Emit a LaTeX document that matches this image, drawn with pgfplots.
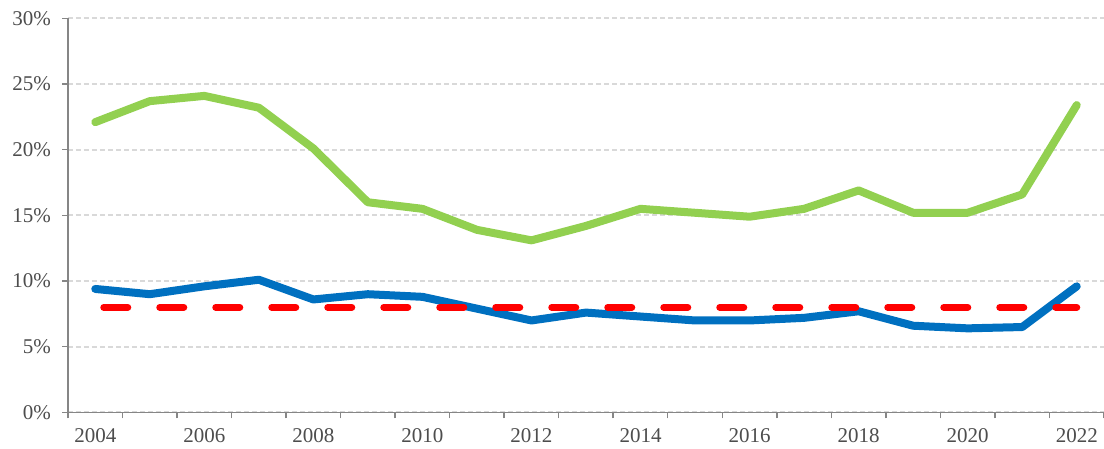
\documentclass[border=0pt]{standalone}
\usepackage{fontspec}
\setmainfont{Liberation Serif}
\usepackage{pgfplots}
\pgfplotsset{compat=1.18}
\definecolor{cgreen}{HTML}{92D050}
\definecolor{cblue}{HTML}{0070C0}
\definecolor{cred}{HTML}{FF0000}
\definecolor{cgrid}{HTML}{D9D9D9}
\definecolor{caxis}{HTML}{868686}
\definecolor{ctext}{HTML}{4D4D4D}
\begin{document}
\begin{tikzpicture}
\begin{axis}[
 scale only axis, width=518pt, height=197pt,
 xmin=2003.5, xmax=2022.5, ymin=0, ymax=30,
 axis x line*=bottom, axis y line*=left,
 axis line style={-, draw=caxis, line width=0.75pt},
 tick align=outside, major tick length=3pt,
 tick style={draw=caxis, line width=0.75pt},
 xtick={2003.5,2004.5,...,2022.5}, xticklabels={},
 extra x ticks={2004,2006,...,2022},
 extra x tick labels={2004,2006,2008,2010,2012,2014,2016,2018,2020,2022},
 extra x tick style={major tick length=0pt, grid=none},
 ytick={0,5,...,30}, yticklabels={0\%,5\%,10\%,15\%,20\%,25\%,30\%},
 ymajorgrids, grid style={draw=cgrid, line width=1pt, dash pattern=on 2.5pt off 1.5pt},
 tick label style={font=\fontsize{10.5}{12}\selectfont, text=ctext},
 xticklabel style={yshift=-4.5pt},
 yticklabel style={xshift=-2pt},
 clip=false,
]
\addplot[cgreen, line width=4pt, line cap=round, line join=round] coordinates {
(2004,22.1) (2005,23.7) (2006,24.1) (2007,23.2) (2008,20.1) (2009,16.0) (2010,15.5)
(2011,13.9) (2012,13.1) (2013,14.2) (2014,15.5) (2015,15.2) (2016,14.9) (2017,15.5)
(2018,16.9) (2019,15.2) (2020,15.2) (2021,16.6) (2022,23.4)};
\addplot[cblue, line width=4pt, line cap=round, line join=round] coordinates {
(2004,9.4) (2005,9.0) (2006,9.6) (2007,10.1) (2008,8.6) (2009,9.0) (2010,8.8)
(2011,7.9) (2012,7.0) (2013,7.6) (2014,7.3) (2015,7.0) (2016,7.0) (2017,7.2)
(2018,7.7) (2019,6.6) (2020,6.4) (2021,6.5) (2022,9.6)};
\addplot[cred, line width=3.5pt, line cap=round, dash pattern=on 12pt off 16pt, dash phase=23.75pt] coordinates {
(2004,8) (2005,8) (2006,8) (2007,8) (2008,8) (2009,8) (2010,8) (2011,8) (2012,8) (2013,8)
(2014,8) (2015,8) (2016,8) (2017,8) (2018,8) (2019,8) (2020,8) (2021,8) (2022,8)};
\end{axis}
\pgfresetboundingbox
\path[use as bounding box] ([xshift=-34pt,yshift=-18.2pt]current axis.south west) rectangle ([yshift=9.2pt]current axis.north east);
\end{tikzpicture}
\end{document}
